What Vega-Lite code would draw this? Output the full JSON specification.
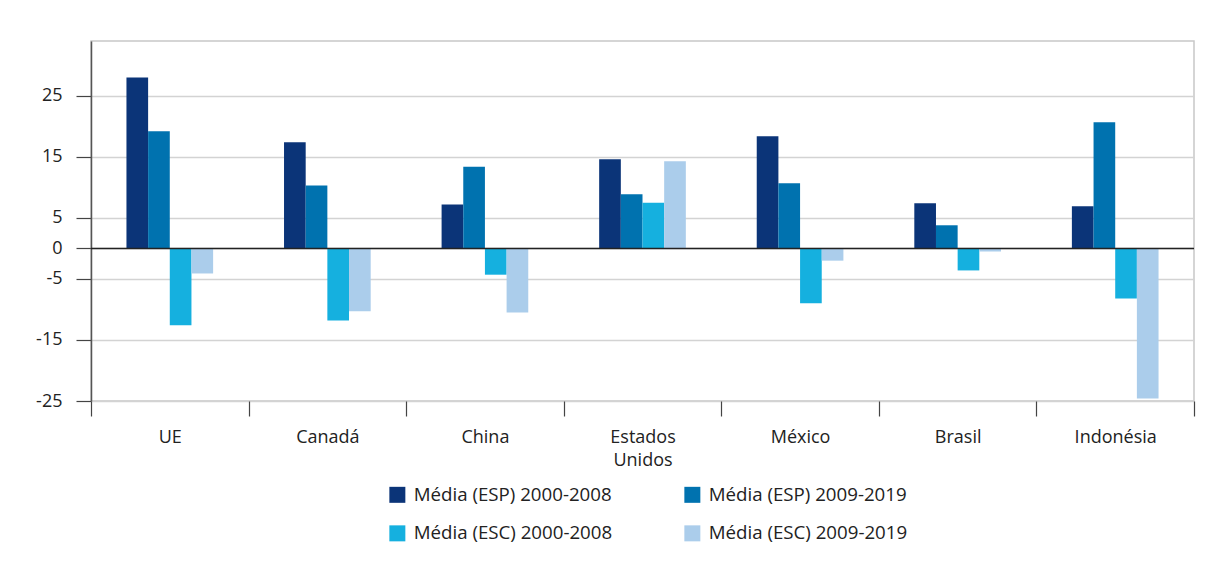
{
  "$schema": "https://vega.github.io/schema/vega-lite/v6.json",
  "width": 1103,
  "height": 360,
  "padding": {"left": 35, "top": 41, "right": 14, "bottom": 5},
  "background": "white",
  "config": {
    "font": "Open Sans",
    "view": {"stroke": "#c8c8c8", "strokeWidth": 1.5},
    "axis": {"labelFont": "Open Sans", "labelFontSize": 18, "labelColor": "#222222"}
  },
  "data": {
    "values": [
      {"pais": "UE", "serie": "Média (ESP) 2000-2008", "valor": 28.0},
      {"pais": "UE", "serie": "Média (ESP) 2009-2019", "valor": 19.2},
      {"pais": "UE", "serie": "Média (ESC) 2000-2008", "valor": -12.6},
      {"pais": "UE", "serie": "Média (ESC) 2009-2019", "valor": -4.1},
      {"pais": "Canadá", "serie": "Média (ESP) 2000-2008", "valor": 17.4},
      {"pais": "Canadá", "serie": "Média (ESP) 2009-2019", "valor": 10.3},
      {"pais": "Canadá", "serie": "Média (ESC) 2000-2008", "valor": -11.8},
      {"pais": "Canadá", "serie": "Média (ESC) 2009-2019", "valor": -10.3},
      {"pais": "China", "serie": "Média (ESP) 2000-2008", "valor": 7.2},
      {"pais": "China", "serie": "Média (ESP) 2009-2019", "valor": 13.4},
      {"pais": "China", "serie": "Média (ESC) 2000-2008", "valor": -4.3},
      {"pais": "China", "serie": "Média (ESC) 2009-2019", "valor": -10.5},
      {"pais": "Estados Unidos", "serie": "Média (ESP) 2000-2008", "valor": 14.6},
      {"pais": "Estados Unidos", "serie": "Média (ESP) 2009-2019", "valor": 8.9},
      {"pais": "Estados Unidos", "serie": "Média (ESC) 2000-2008", "valor": 7.5},
      {"pais": "Estados Unidos", "serie": "Média (ESC) 2009-2019", "valor": 14.3},
      {"pais": "México", "serie": "Média (ESP) 2000-2008", "valor": 18.4},
      {"pais": "México", "serie": "Média (ESP) 2009-2019", "valor": 10.7},
      {"pais": "México", "serie": "Média (ESC) 2000-2008", "valor": -9.0},
      {"pais": "México", "serie": "Média (ESC) 2009-2019", "valor": -2.0},
      {"pais": "Brasil", "serie": "Média (ESP) 2000-2008", "valor": 7.4},
      {"pais": "Brasil", "serie": "Média (ESP) 2009-2019", "valor": 3.8},
      {"pais": "Brasil", "serie": "Média (ESC) 2000-2008", "valor": -3.6},
      {"pais": "Brasil", "serie": "Média (ESC) 2009-2019", "valor": -0.5},
      {"pais": "Indonésia", "serie": "Média (ESP) 2000-2008", "valor": 6.9},
      {"pais": "Indonésia", "serie": "Média (ESP) 2009-2019", "valor": 20.7},
      {"pais": "Indonésia", "serie": "Média (ESC) 2000-2008", "valor": -8.2},
      {"pais": "Indonésia", "serie": "Média (ESC) 2009-2019", "valor": -24.6}
    ]
  },
  "layer": [
    {
      "mark": {"type": "bar"},
      "encoding": {
        "x": {
          "field": "pais",
          "type": "nominal",
          "sort": null,
          "title": null,
          "scale": {"paddingInner": 0.45, "paddingOuter": 0.225},
          "axis": {
            "labelAngle": 0,
            "bandPosition": 1.8183,
            "tickExtra": true,
            "tickOffset": -35.45,
            "labelOffset": 35.45,
            "tickSize": 15,
            "tickColor": "#444444",
            "tickWidth": 1.2,
            "domain": false,
            "labelPadding": 12,
            "labelLineHeight": 23,
            "labelExpr": "datum.label == 'Estados Unidos' ? ['Estados', 'Unidos'] : datum.label"
          }
        },
        "xOffset": {
          "field": "serie",
          "type": "nominal",
          "sort": ["Média (ESP) 2000-2008", "Média (ESP) 2009-2019", "Média (ESC) 2000-2008", "Média (ESC) 2009-2019"],
          "scale": {"paddingInner": 0, "paddingOuter": 0}
        },
        "y": {
          "field": "valor",
          "type": "quantitative",
          "title": null,
          "scale": {"domain": [-25, 34], "nice": false, "zero": false},
          "axis": {
            "values": [-25, -15, -5, 0, 5, 15, 25],
            "labelExpr": "replace(datum.label, '−', '-')",
            "tickSize": 15,
            "tickColor": "#444444",
            "tickWidth": 1.2,
            "labelPadding": 14,
            "domainColor": "#555555",
            "domainWidth": 1.5,
            "gridColor": "#d3d3d3",
            "gridWidth": 1.5
          }
        },
        "color": {
          "field": "serie",
          "type": "nominal",
          "sort": ["Média (ESP) 2000-2008", "Média (ESP) 2009-2019", "Média (ESC) 2000-2008", "Média (ESC) 2009-2019"],
          "scale": {
            "domain": ["Média (ESP) 2000-2008", "Média (ESP) 2009-2019", "Média (ESC) 2000-2008", "Média (ESC) 2009-2019"],
            "range": ["#0b3478", "#0072af", "#15b0df", "#abcdeb"]
          },
          "legend": {
            "title": null,
            "orient": "none",
            "legendX": 297,
            "legendY": 444,
            "direction": "horizontal",
            "columns": 2,
            "symbolType": "square",
            "symbolSize": 256,
            "symbolStrokeWidth": 0,
            "labelFontSize": 18.7,
            "labelFont": "Open Sans",
            "labelColor": "#222222",
            "labelLimit": 300,
            "labelOffset": 7,
            "columnPadding": 70,
            "rowPadding": 19
          }
        }
      }
    },
    {
      "data": {"values": [{"zero": 0}]},
      "mark": {"type": "rule", "color": "#222222", "strokeWidth": 1.5},
      "encoding": {"y": {"field": "zero", "type": "quantitative"}}
    }
  ]
}
